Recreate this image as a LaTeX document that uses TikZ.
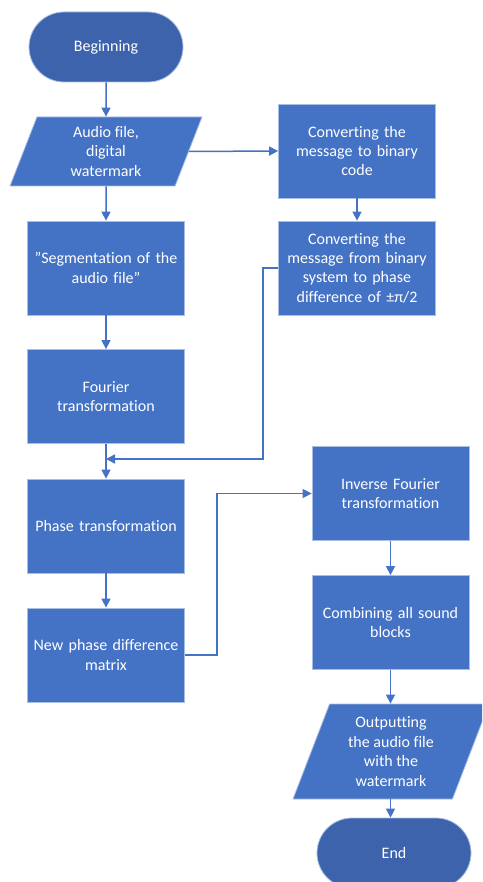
\documentclass[tikz,border=0pt]{standalone}
\usepackage{fontspec}
\setmainfont{Carlito}[Ligatures={NoCommon}]
\usetikzlibrary{shapes.geometric,shapes.misc,arrows.meta}
\definecolor{boxblue}{HTML}{4472C4}
\definecolor{termblue}{HTML}{3D63AD}
\definecolor{edgeblue}{HTML}{A9BEE3}
\definecolor{lineblue}{HTML}{4472C4}
\tikzset{
  base/.style={draw=edgeblue, line width=0.8pt, text=white, align=center,
    font=\fontsize{16}{19.4}\selectfont, inner sep=2pt},
  procbox/.style={base, rectangle, fill=boxblue, minimum width=157pt, minimum height=94pt, text width=152pt},
  termbox/.style={base, rounded rectangle, fill=termblue, minimum width=158pt, minimum height=70pt},
  iobox/.style={base, trapezium, trapezium left angle=63.5, trapezium right angle=116.5,
    trapezium stretches body, fill=boxblue},
  conn/.style={draw=lineblue, line width=1.5pt, -{Triangle[length=9pt,width=9pt]}},
}
\begin{document}
\begin{tikzpicture}[x=1pt,y=-1pt]
\useasboundingbox (0,0) rectangle (482,882);
\clip (0,0) rectangle (482,882);
\node[termbox] (begin) at (106,47) {Beginning};
\node[iobox, minimum width=192pt, minimum height=69pt] (audio) at (106,151.5) {Audio file,\\digital\\watermark};
\node[procbox] (conv1) at (357,151) {Converting the\\message to binary\\code};
\node[procbox] (seg) at (106,268) {\symbol{"22}Segmentation of the\\audio file\symbol{"22}};
\node[procbox] (conv2) at (357,268) {Converting the\\message from binary\\system to phase\\difference of ±π/2};
\node[procbox] (four) at (106,396.5) {Fourier\\transformation};
\node[procbox] (phase) at (106,526) {Phase transformation};
\node[procbox] (newp) at (106,655) {New phase difference\\matrix};
\node[procbox] (inv) at (390.5,493.5) {Inverse Fourier\\transformation};
\node[procbox] (comb) at (390.5,622.5) {Combining all sound\\blocks};
\node[iobox, minimum width=196pt, minimum height=95pt] (out) at (391,751.5) {Outputting\\the audio file\\with the\\watermark};
\node[termbox] (end) at (394,853) {End};
\coordinate (j1) at (106,459);
\draw[conn] (begin) -- (audio);
\draw[conn] (audio.east) -- (conv1.west);
\draw[conn] (audio) -- (seg);
\draw[conn] (conv1) -- (conv2);
\draw[conn] (seg) -- (four);
\draw[conn] (four) -- (phase);
\draw[conn] (phase) -- (newp);
\draw[conn] (conv2.west) -- ++(-15,0) |- (j1);
\draw[conn] (newp.east) -- ++(32,0) |- (inv.west);
\draw[conn] (inv) -- (comb);
\draw[conn] (comb.south) -- (comb.south |- out.north);
\draw[conn] (out.south -| comb.south) -- (end.north -| comb.south);
\end{tikzpicture}
\end{document}
